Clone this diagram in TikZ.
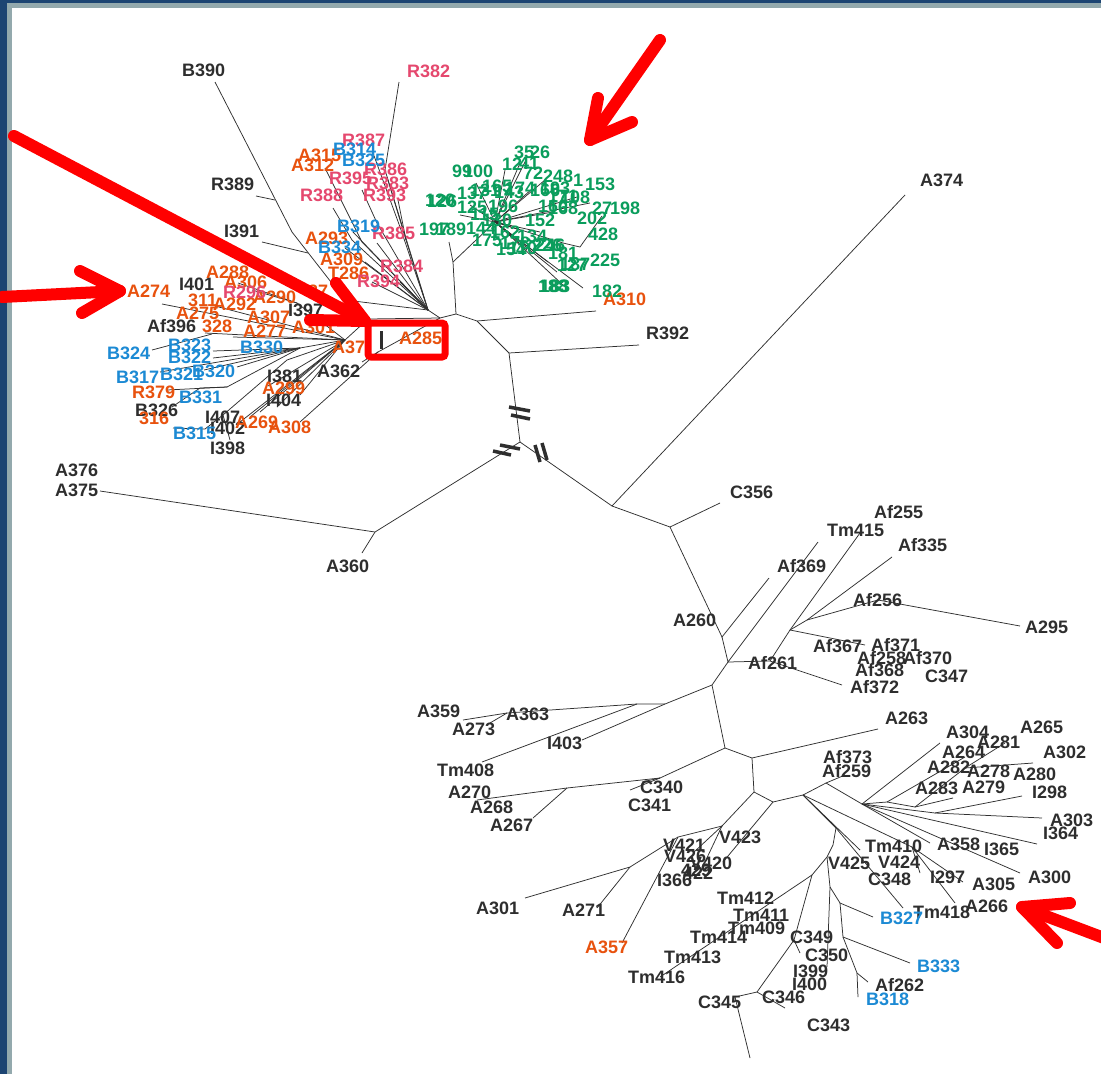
\documentclass[tikz,border=0pt]{standalone}
\usepackage{fontspec}
\setmainfont{Liberation Sans}
\definecolor{dkc}{HTML}{2E2E2E}
\definecolor{orc}{HTML}{E8520E}
\definecolor{pkc}{HTML}{E5486E}
\definecolor{blc}{HTML}{1C8AD4}
\definecolor{grc}{HTML}{0A9D5C}
\definecolor{linec}{HTML}{303030}
\definecolor{frameblue}{HTML}{1C4472}
\definecolor{framegrey}{HTML}{93A9AD}
\definecolor{redc}{HTML}{FF0000}
\tikzset{
 br/.style={draw=linec, line width=0.75pt},
 lab/.style={anchor=base west, inner sep=0pt, yshift=-6.5pt, font=\fontsize{18}{20}\selectfont\bfseries},
 labdk/.style={lab,text=dkc}, labor/.style={lab,text=orc}, labpk/.style={lab,text=pkc},
 labbl/.style={lab,text=blc}, labgr/.style={lab,text=grc},
 brk/.style={draw=dkc, line width=3.5pt},
 redarrow/.style={draw=redc, line width=12pt, line cap=round, line join=round},
}
\begin{document}
\begin{tikzpicture}[x=1pt,y=-1pt]
\useasboundingbox (0,0) rectangle (1101,1074);
\fill[frameblue] (0,0) rectangle (1101,1074);
\fill[framegrey] (7,3) rectangle (1101,1074);
\fill[white] (12,8) rectangle (1101,1074);

% ---------- coordinates: backbone ----------
\coordinate (c0) at (520,442);
\coordinate (u1) at (509,353);
\coordinate (u2) at (477,321);
\coordinate (u3) at (456,314);
\coordinate (tR392) at (639,345);
\coordinate (tA310) at (596,311);
\coordinate (g0) at (453,262);
\coordinate (gs) at (449,242);
\coordinate (G) at (495,222);
\coordinate (H) at (440,318);
\coordinate (Hb) at (368,319);
\coordinate (HU) at (428,310);
\coordinate (HL) at (345,340);
\coordinate (l1) at (499,455);
\coordinate (l2) at (375,532);
\coordinate (tA375) at (100,491);
\coordinate (tA360) at (362,553);
\coordinate (r1) at (612,506);
\coordinate (tA374) at (905,195);
\coordinate (r2) at (670,527);
\coordinate (tC356) at (720,503);
\coordinate (r3) at (722,637);
\coordinate (tAf369) at (769,578);
\coordinate (P1) at (728,662);
\coordinate (tTm415) at (818,542);
\coordinate (P2) at (770,661);
\coordinate (P3) at (790,630);
\coordinate (tAf255) at (860,533);
\coordinate (tAf372) at (842,685);
\coordinate (tAf367) at (865,645);
\coordinate (P4) at (807,620);
\coordinate (tAf335) at (892,557);
\coordinate (P5) at (878,600);
\coordinate (tA295) at (1020,626);
\coordinate (Q1) at (712,685);
\coordinate (Q2) at (665,704);
\coordinate (tI403) at (582,740);
\coordinate (Q3) at (637,704);
\coordinate (tTm408) at (482,762);
\coordinate (Q4) at (507,713);
\coordinate (tA359) at (463,720);
\coordinate (tA273) at (490,723);
\coordinate (Q5) at (725,748);
\coordinate (Q7) at (660,778);
\coordinate (tC341) at (630,790);
\coordinate (tC340) at (642,782);
\coordinate (Q6) at (567,788);
\coordinate (tA270) at (477,800);
\coordinate (tA267) at (533,818);
\coordinate (Q8) at (752,758);
\coordinate (tA263) at (878,729);
\coordinate (Q9) at (754,792);
\coordinate (Q10) at (773,802);
\coordinate (V1) at (722,826);
\coordinate (V2) at (678,837);
\coordinate (Va) at (630,867);
\coordinate (tA301) at (525,898);
\coordinate (tA271) at (597,908);
\coordinate (tA357) at (622,943);
\coordinate (tV426) at (694,852);
\coordinate (tV420) at (705,862);
\coordinate (tV423) at (723,862);
\coordinate (R1) at (803,795);
\coordinate (Naf) at (826,783);
\coordinate (tAf259) at (845,775);
\coordinate (R2) at (862,804);
\coordinate (tA304) at (940,743);
\coordinate (R3) at (887,802);
\coordinate (tA282) at (965,757);
\coordinate (R4) at (915,807);
\coordinate (tA283) at (953,798);
\coordinate (R5) at (965,768);
\coordinate (tA281) at (1005,743);
\coordinate (tA302) at (1033,763);
\coordinate (R6) at (935,813);
\coordinate (tI298) at (1022,796);
\coordinate (tA303) at (1042,818);
\coordinate (tI365) at (1037,844);
\coordinate (tA358) at (930,843);
\coordinate (tA300) at (1020,873);
\coordinate (tTm410) at (860,850);
\coordinate (T1) at (912,847);
\coordinate (tI297) at (963,882);
\coordinate (tTm418) at (955,903);
\coordinate (tV424) at (920,873);
\coordinate (S1) at (836,828);
\coordinate (tS1) at (903,908);
\coordinate (S2) at (833,845);
\coordinate (S3) at (827,857);
\coordinate (U1) at (812,875);
\coordinate (U2) at (794,940);
\coordinate (tC349) at (800,953);
\coordinate (U3) at (757,992);
\coordinate (Nc345) at (735,997);
\coordinate (tC345) at (750,1058);
\coordinate (tC346) at (785,1008);
\coordinate (tTm416) at (660,977);
\coordinate (S4) at (830,887);
\coordinate (tI399) at (827,967);
\coordinate (S5) at (840,903);
\coordinate (tB327) at (873,917);
\coordinate (S6) at (843,937);
\coordinate (tB333) at (910,963);
\coordinate (S7) at (857,973);
\coordinate (tAf262) at (868,982);
\coordinate (tB318) at (858,997);

% left cluster coordinates
\coordinate (tB390) at (215,82);
\coordinate (B1) at (292,232);
\coordinate (B2) at (345,300);
\coordinate (tR389) at (256,196);
\coordinate (jR389) at (275,200);
\coordinate (tI391) at (262,242);
\coordinate (jI391) at (308,253);
\coordinate (tR382) at (399,82);
\coordinate (jR382) at (385,170);
\coordinate (tA312) at (325,168);
\coordinate (jA312) at (362,242);
\coordinate (tR388) at (333,208);
\coordinate (jR388) at (352,240);
\coordinate (tB325) at (373,153);
\coordinate (jB325) at (400,227);
\coordinate (tR393) at (362,190);
\coordinate (jR393) at (377,223);
\coordinate (tR386) at (387,177);
\coordinate (jR386) at (406,240);
\coordinate (tR383) at (398,200);
\coordinate (tA293) at (345,248);
\coordinate (tB334) at (353,232);
\coordinate (tR384) at (377,243);
\coordinate (tR394) at (400,282);
\coordinate (tA309) at (365,262);
\coordinate (tT286) at (372,282);
\coordinate (tA274) at (162,304);
\coordinate (tA288) at (238,283);
\coordinate (tA290) at (252,290);
\coordinate (jA306) at (297,303);
\coordinate (t311) at (215,306);
\coordinate (tAf396) at (205,333);
\coordinate (t328) at (233,337);
\coordinate (tB324) at (152,350);
\coordinate (jB324) at (212,334);
\coordinate (J1) at (300,348);
\coordinate (tB323) at (213,351);
\coordinate (tB322) at (213,358);
\coordinate (tB317) at (160,372);
\coordinate (tB321) at (204,370);
\coordinate (tB320) at (237,367);
\coordinate (J2) at (227,387);
\coordinate (tR379) at (167,390);
\coordinate (tB326) at (172,407);
\coordinate (jB326) at (200,388);
\coordinate (J3) at (223,415);
\coordinate (jI407) at (287,360);
\coordinate (tB315) at (173,428);
\coordinate (jB315) at (205,429);
\coordinate (tI398) at (230,440);
\coordinate (tA269a) at (240,422);
\coordinate (tA269b) at (250,417);
\coordinate (tA269c) at (260,412);
\coordinate (tA269d) at (277,407);
\coordinate (tI381) at (268,386);
\coordinate (tA299) at (300,395);
\coordinate (tA308) at (300,422);
\coordinate (jA308) at (378,352);
\coordinate (tA362) at (362,362);

% green cluster coordinates
\foreach \n/\x/\y in {1/476/183,2/505/170,3/520/163,4/526/160,5/533/188,6/553/212,7/577/197,8/563/243,9/563/285,10/583/288,11/548/262,12/527/250,13/520/230,14/540/232,15/557/272,16/470/205,17/460/215,18/545/180,19/590/203}
  \coordinate (gt\n) at (\x,\y);
\coordinate (g428n) at (580,247);
\coordinate (g428t) at (602,216);

% ---------- tree lines ----------
\draw[br] (c0) -- (u1) -- (u2) -- (u3) -- (H) -- (Hb) -- (HL);
\draw[br] (u1) -- (tR392);
\draw[br] (u2) -- (tA310);
\draw[br] (u3) -- (g0) -- (G);
\draw[br] (g0) -- (gs);
\draw[br] (c0) -- (l1) -- (l2) -- (tA375);
\draw[br] (l2) -- (tA360);
\draw[br] (c0) -- (r1) -- (tA374);
\draw[br] (r1) -- (r2) -- (tC356);
\draw[br] (r2) -- (r3) -- (tAf369);
\draw[br] (r3) -- (P1) -- (tTm415);
\draw[br] (P1) -- (P2) -- (P3) -- (tAf255);
\draw[br] (P2) -- (tAf372);
\draw[br] (P3) -- (tAf367);
\draw[br] (P3) -- (P4) -- (tAf335);
\draw[br] (P4) -- (P5) -- (tA295);
\draw[br] (P1) -- (Q1) -- (Q2) -- (tI403);
\draw[br] (Q2) -- (Q3) -- (tTm408);
\draw[br] (Q3) -- (Q4) -- (tA359);
\draw[br] (Q4) -- (tA273);
\draw[br] (Q1) -- (Q5) -- (Q7) -- (Q6) -- (tA270);
\draw[br] (Q6) -- (tA267);
\draw[br] (Q7) -- (tC341);
\draw[br] (Q7) -- (tC340);
\draw[br] (Q5) -- (Q8) -- (tA263);
\draw[br] (Q8) -- (Q9) -- (Q10);
\draw[br] (Q9) -- (V1) -- (V2) -- (Va) -- (tA301);
\draw[br] (Va) -- (tA271);
\draw[br] (V2) -- (tA357);
\draw[br] (V1) -- (tV426);
\draw[br] (V1) -- (tV420);
\draw[br] (Q10) -- (tV423);
\draw[br] (Q10) -- (R1) -- (Naf) -- (tAf259);
\draw[br] (Naf) -- (R2) -- (tA304);
\draw[br] (R2) -- (R3) -- (tA282);
\draw[br] (R3) -- (R4) -- (tA283);
\draw[br] (R4) -- (R5) -- (tA281);
\draw[br] (R5) -- (tA302);
\draw[br] (R2) -- (R6) -- (tI298);
\draw[br] (R6) -- (tA303);
\draw[br] (R2) -- (tI365);
\draw[br] (R2) -- (tA358);
\draw[br] (R2) -- (tA300);
\draw[br] (R1) -- (tTm410);
\draw[br] (R1) -- (T1) -- (tI297);
\draw[br] (T1) -- (tTm418);
\draw[br] (T1) -- (tV424);
\draw[br] (R1) -- (S1) -- (tS1);
\draw[br] (S1) -- (S2) -- (S3) -- (U1) -- (U2) -- (U3) -- (Nc345) -- (tC345);
\draw[br] (U2) -- (tC349);
\draw[br] (U3) -- (tC346);
\draw[br] (U1) -- (tTm416);
\draw[br] (S3) -- (S4) -- (tI399);
\draw[br] (S4) -- (S5) -- (tB327);
\draw[br] (S5) -- (S6) -- (tB333);
\draw[br] (S6) -- (S7) -- (tAf262);
\draw[br] (S7) -- (tB318);

% left cluster lines
\draw[br] (tB390) -- (B1) -- (B2) -- (HU);
\draw[br] (tR389) -- (jR389);
\draw[br] (tI391) -- (jI391);
\draw[br] (tR382) -- (jR382) -- (HU);
\draw[br] (tA312) -- (jA312) -- (HU);
\draw[br] (tR388) -- (jR388) -- (HU);
\draw[br] (tB325) -- (jB325) -- (HU);
\draw[br] (tR393) -- (jR393) -- (HU);
\draw[br] (tR386) -- (jR386) -- (HU);
\draw[br] (tR383) -- (jR386);
\draw[br] (tA293) -- (HU);
\draw[br] (tB334) -- (HU);
\draw[br] (tR384) -- (HU);
\draw[br] (tR394) -- (HU);
\draw[br] (tA309) -- (HU);
\draw[br] (tT286) -- (HU);
\draw[br] (HU) -- (H);
\draw[br] (tA274) -- (HL);
\draw[br] (tA288) -- (jA306) -- (HL);
\draw[br] (tA290) -- (jA306);
\draw[br] (t311) -- (HL);
\draw[br] (tAf396) -- (HL);
\draw[br] (t328) -- (HL);
\draw[br] (tB324) -- (jB324);
\draw[br] (J1) -- (HL);
\draw[br] (tB323) -- (J1);
\draw[br] (tB322) -- (J1);
\draw[br] (tB317) -- (J1);
\draw[br] (tB321) -- (J1);
\draw[br] (tB320) -- (J1);
\draw[br] (J2) -- (J1);
\draw[br] (tR379) -- (J2);
\draw[br] (tB326) -- (jB326) -- (J2);
\draw[br] (J3) -- (jI407) -- (HL);
\draw[br] (tB315) -- (jB315) -- (J3);
\draw[br] (tI398) -- (J3);
\draw[br] (tA269a) -- (HL);
\draw[br] (tA269b) -- (HL);
\draw[br] (tA269c) -- (HL);
\draw[br] (tA269d) -- (HL);
\draw[br] (tI381) -- (HL);
\draw[br] (tA299) -- (HL);
\draw[br] (tA308) -- (jA308) -- (H);
\draw[br] (tA362) -- (jA308);

% green cluster lines
\foreach \n in {1,...,19} \draw[br] (G) -- (gt\n);
\draw[br] (gt8) -- (g428n) -- (g428t);

% ---------- labels ----------
% dark
\node[labdk] (nB390) at (182,70) {B390};
\node[labdk] (nR389) at (211,184) {R389};
\node[labdk] (nI391) at (224,231) {I391};
\node[labdk] (nI401) at (179,284) {I401};
\node[labdk] (nAf396) at (147,326) {Af396};
\node[labdk] (nI397) at (288,310) {I397};
\node[labdk] (nA362) at (317,371) {A362};
\node[labdk] (nI381) at (267,376) {I381};
\node[labdk] (nI404) at (266,400) {I404};
\node[labdk] (nB326) at (135,410) {B326};
\node[labdk] (nI407) at (205,417) {I407};
\node[labdk] (nI402) at (210,428) {I402};
\node[labdk] (nI398) at (210,448) {I398};
\node[labdk] (nR392) at (646,333) {R392};
\node[labdk] (nA374) at (920,180) {A374};
\node[labdk] (nA376) at (55,470) {A376};
\node[labdk] (nA375) at (55,490) {A375};
\node[labdk] (nA360) at (326,566) {A360};
\node[labdk] (nC356) at (730,492) {C356};
\node[labdk] (nTm415) at (827,530) {Tm415};
\node[labdk] (nAf255) at (874,512) {Af255};
\node[labdk] (nAf335) at (898,545) {Af335};
\node[labdk] (nAf369) at (777,566) {Af369};
\node[labdk] (nAf256) at (853,600) {Af256};
\node[labdk] (nA295) at (1025,627) {A295};
\node[labdk] (nA260) at (673,620) {A260};
\node[labdk] (nAf367) at (813,646) {Af367};
\node[labdk] (nAf371) at (871,645) {Af371};
\node[labdk] (nAf258) at (857,658) {Af258};
\node[labdk] (nAf370) at (903,658) {Af370};
\node[labdk] (nAf368) at (855,670) {Af368};
\node[labdk] (nC347) at (925,676) {C347};
\node[labdk] (nAf261) at (748,663) {Af261};
\node[labdk] (nAf372) at (850,687) {Af372};
\node[labdk] (nA359) at (417,711) {A359};
\node[labdk] (nA363) at (506,714) {A363};
\node[labdk] (nA273) at (452,729) {A273};
\node[labdk] (nI403) at (547,743) {I403};
\node[labdk] (nTm408) at (437,770) {Tm408};
\node[labdk] (nC340) at (640,787) {C340};
\node[labdk] (nA270) at (448,792) {A270};
\node[labdk] (nC341) at (628,805) {C341};
\node[labdk] (nA268) at (470,807) {A268};
\node[labdk] (nA267) at (490,825) {A267};
\node[labdk] (nA263) at (885,718) {A263};
\node[labdk] (nA304) at (946,732) {A304};
\node[labdk] (nA265) at (1020,727) {A265};
\node[labdk] (nA281) at (977,742) {A281};
\node[labdk] (nA264) at (942,752) {A264};
\node[labdk] (nA302) at (1043,752) {A302};
\node[labdk] (nAf373) at (823,757) {Af373};
\node[labdk] (nAf259) at (822,771) {Af259};
\node[labdk] (nA282) at (927,767) {A282};
\node[labdk] (nA278) at (967,771) {A278};
\node[labdk] (nA280) at (1013,774) {A280};
\node[labdk] (nA283) at (915,788) {A283};
\node[labdk] (nA279) at (962,787) {A279};
\node[labdk] (nI298) at (1032,792) {I298};
\node[labdk] (nA303) at (1050,820) {A303};
\node[labdk] (nI364) at (1043,833) {I364};
\node[labdk] (nTm410) at (865,846) {Tm410};
\node[labdk] (nA358) at (937,844) {A358};
\node[labdk] (nI365) at (984,849) {I365};
\node[labdk] (nV425) at (828,863) {V425};
\node[labdk] (nV424) at (878,862) {V424};
\node[labdk] (nC348) at (868,879) {C348};
\node[labdk] (nI297) at (930,877) {I297};
\node[labdk] (nA300) at (1028,877) {A300};
\node[labdk] (nA305) at (972,884) {A305};
\node[labdk] (nA266) at (965,906) {A266};
\node[labdk] (nTm418) at (913,912) {Tm418};
\node[labdk] (nAf262) at (875,985) {Af262};
\node[labdk] (nV421) at (663,845) {V421};
\node[labdk] (nV423) at (719,837) {V423};
\node[labdk] (nV426) at (664,856) {V426};
\node[labdk] (nV420) at (690,863) {V420};
\node[labdk] (n429) at (681,870) {429};
\node[labdk] (n422) at (683,873) {422};
\node[labdk] (nI366) at (657,880) {I366};
\node[labdk] (nA301) at (476,908) {A301};
\node[labdk] (nA271) at (562,910) {A271};
\node[labdk] (nTm412) at (717,898) {Tm412};
\node[labdk] (nTm411) at (733,915) {Tm411};
\node[labdk] (nTm409) at (728,928) {Tm409};
\node[labdk] (nTm414) at (690,937) {Tm414};
\node[labdk] (nC349) at (790,937) {C349};
\node[labdk] (nC350) at (805,955) {C350};
\node[labdk] (nTm413) at (664,957) {Tm413};
\node[labdk] (nI399) at (793,971) {I399};
\node[labdk] (nTm416) at (628,977) {Tm416};
\node[labdk] (nI400) at (792,984) {I400};
\node[labdk] (nC345) at (698,1002) {C345};
\node[labdk] (nC346) at (762,997) {C346};
\node[labdk] (nC343) at (807,1025) {C343};
% orange
\node[labor] (nA315) at (298,155) {A315};
\node[labor] (nA312) at (291,165) {A312};
\node[labor] (nA293) at (305,238) {A293};
\node[labor] (nA309) at (320,259) {A309};
\node[labor] (nT286) at (328,273) {T286};
\node[labor] (nA274) at (127,291) {A274};
\node[labor] (nA288) at (206,272) {A288};
\node[labor] (nA306) at (224,282) {A306};
\node[labor] (nA290) at (253,297) {A290};
\node[labor] (n311) at (188,300) {311};
\node[labor] (nA292) at (213,304) {A292};
\node[labor] (n27o) at (308,291) {27};
\node[labor] (nA307) at (247,317) {A307};
\node[labor] (nA301L) at (292,327) {A301};
\node[labor] (nA275) at (176,313) {A275};
\node[labor] (n328) at (202,326) {328};
\node[labor] (nA277) at (243,331) {A277};
\node[labor] (nA37) at (332,347) {A37};
\node[labor] (nA285) at (399,338) {A285};
\node[labor] (nA299) at (262,388) {A299};
\node[labor] (nR379) at (132,392) {R379};
\node[labor] (n316) at (139,418) {316};
\node[labor] (nA269) at (235,422) {A269};
\node[labor] (nA308) at (268,427) {A308};
\node[labor] (nA310) at (603,299) {A310};
\node[labor] (nA357) at (585,947) {A357};
% pink
\node[labpk] (nR382) at (407,71) {R382};
\node[labpk] (nR387) at (342,140) {R387};
\node[labpk] (nR386) at (364,169) {R386};
\node[labpk] (nR395) at (329,178) {R395};
\node[labpk] (nR383) at (366,183) {R383};
\node[labpk] (nR388) at (300,195) {R388};
\node[labpk] (nR393) at (363,195) {R393};
\node[labpk] (nR385) at (372,233) {R385};
\node[labpk] (nR384) at (380,266) {R384};
\node[labpk] (nR394) at (357,281) {R394};
\node[labpk] (nR296) at (223,292) {R296};
% blue
\node[labbl] (nB314) at (333,149) {B314};
\node[labbl] (nB325) at (342,160) {B325};
\node[labbl] (nB319) at (337,226) {B319};
\node[labbl] (nB334) at (318,247) {B334};
\node[labbl] (nB324) at (107,353) {B324};
\node[labbl] (nB323) at (168,345) {B323};
\node[labbl] (nB322) at (168,357) {B322};
\node[labbl] (nB330) at (240,347) {B330};
\node[labbl] (nB317) at (116,377) {B317};
\node[labbl] (nB321) at (160,374) {B321};
\node[labbl] (nB320) at (192,371) {B320};
\node[labbl] (nB331) at (179,397) {B331};
\node[labbl] (nB315) at (173,433) {B315};
\node[labbl] (nB327) at (880,918) {B327};
\node[labbl] (nB333) at (917,966) {B333};
\node[labbl] (nB318) at (866,999) {B318};
% green
\node[labgr] (g99) at (452,171) {99};
\node[labgr] (g100) at (463,171) {100};
\node[labgr] (g35) at (514,152) {35};
\node[labgr] (g26) at (530,152) {26};
\node[labgr] (g12) at (502,164) {12};
\node[labgr] (g41) at (519,163) {41};
\node[labgr] (g72) at (523,173) {72};
\node[labgr] (g248) at (543,176) {248};
\node[labgr] (g1) at (573,180) {1};
\node[labgr] (g153) at (585,184) {153};
\node[labgr] (g120) at (425,200) {120};
\node[labgr] (g126) at (427,201) {126};
\node[labgr] (g137) at (457,193) {137};
\node[labgr] (g125) at (457,207) {125};
\node[labgr] (g197) at (419,229) {197};
\node[labgr] (g189) at (436,229) {189};
\node[labgr] (g108) at (560,197) {108};
\node[labgr] (g27) at (592,208) {27};
\node[labgr] (g198) at (610,208) {198};
\node[labgr] (g202) at (577,218) {202};
\node[labgr] (g428) at (588,234) {428};
\node[labgr] (g152) at (525,220) {152};
\node[labgr] (g226) at (532,245) {226};
\node[labgr] (g246) at (535,245) {246};
\node[labgr] (g181) at (548,253) {181};
\node[labgr] (g225) at (590,260) {225};
\node[labgr] (g127) at (557,265) {127};
\node[labgr] (g187) at (560,264) {187};
\node[labgr] (g188) at (538,286) {188};
\node[labgr] (g183) at (540,286) {183};
\node[labgr] (g182) at (592,291) {182};
\node[labgr] (g131) at (470,190) {131};
\node[labgr] (g165) at (482,186) {165};
\node[labgr] (g143) at (494,192) {143};
\node[labgr] (g174) at (505,188) {174};
\node[labgr] (g166) at (530,190) {166};
\node[labgr] (g193) at (540,188) {193};
\node[labgr] (g171) at (548,196) {171};
\node[labgr] (g160) at (538,206) {160};
\node[labgr] (g196) at (488,206) {196};
\node[labgr] (g115) at (470,214) {115};
\node[labgr] (g130) at (482,220) {130};
\node[labgr] (g144) at (466,228) {144};
\node[labgr] (g162) at (490,232) {162};
\node[labgr] (g178) at (500,243) {178};
\node[labgr] (g134) at (517,236) {134};
\node[labgr] (g110) at (508,248) {110};
\node[labgr] (g154) at (496,249) {154};
\node[labgr] (g168) at (548,208) {168};
\node[labgr] (g175) at (472,240) {175};

% ---------- break marks ----------
\draw[brk] (509,407) -- (530,411);
\draw[brk] (511,415) -- (530,419);
\draw[brk] (493,451) -- (511,455);
\draw[brk] (500,445) -- (520,449);
\draw[brk] (535,445) -- (540,462);
\draw[brk] (542,443) -- (547,460);

% bar inside box
\draw[draw=dkc, line width=3pt] (381,331) -- (381,349);

% red box
\draw[draw=redc, line width=7pt, rounded corners=3pt] (368,323) rectangle (445,357);

% ---------- red arrows ----------
\coordinate (ar1s) at (14,136);
\coordinate (ar1t) at (365,321);
\coordinate (ar1a) at (336,283);
\coordinate (ar1b) at (310,320);
\draw[redarrow] (ar1s) -- (ar1t);
\draw[redarrow] (ar1a) -- (ar1t) -- (ar1b);
\coordinate (ar2s) at (2,297);
\coordinate (ar2t) at (120,291);
\coordinate (ar2a) at (80,271);
\coordinate (ar2b) at (82,313);
\draw[redarrow] (ar2s) -- (ar2t);
\draw[redarrow] (ar2a) -- (ar2t) -- (ar2b);
\coordinate (ar3s) at (660,40);
\coordinate (ar3t) at (590,140);
\coordinate (ar3a) at (598,98);
\coordinate (ar3b) at (632,122);
\draw[redarrow] (ar3s) -- (ar3t);
\draw[redarrow] (ar3a) -- (ar3t) -- (ar3b);
\coordinate (ar4s) at (1112,941);
\coordinate (ar4t) at (1022,907);
\coordinate (ar4a) at (1070,903);
\coordinate (ar4b) at (1057,943);
\draw[redarrow] (ar4s) -- (ar4t);
\draw[redarrow] (ar4a) -- (ar4t) -- (ar4b);
\end{tikzpicture}
\end{document}
